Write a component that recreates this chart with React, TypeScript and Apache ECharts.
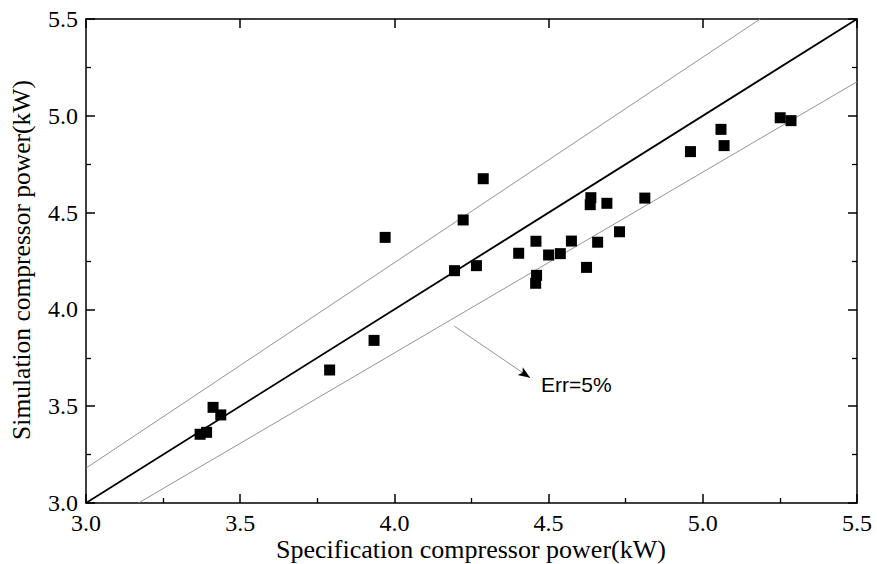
import React, { useEffect, useRef } from "react";
import * as echarts from "echarts";

// Specification compressor power (kW)
const specPower = [
  3.370, 3.391, 3.412, 3.437, 3.790, 3.934, 3.970, 4.195, 4.223, 4.266,
  4.288, 4.403, 4.458, 4.461, 4.459, 4.500, 4.538, 4.574, 4.623, 4.635,
  4.637, 4.659, 4.689, 4.730, 4.812, 4.960, 5.059, 5.069, 5.251, 5.286,
];
// Simulation compressor power (kW)
const simPower = [
  3.355, 3.365, 3.494, 3.455, 3.687, 3.840, 4.372, 4.200, 4.462, 4.226,
  4.675, 4.290, 4.135, 4.176, 4.352, 4.281, 4.288, 4.353, 4.217, 4.541,
  4.577, 4.347, 4.548, 4.401, 4.575, 4.815, 4.930, 4.846, 4.990, 4.975,
];
// Reference lines
const perfectLine = [[3.0, 3.0], [5.5, 5.5]];
const upperErrLine = [[3.0, 3.18], [5.186, 5.5]];
const lowerErrLine = [[3.17, 3.0], [5.5, 5.176]];
// Annotation arrow (data coords) and text
const arrowStart = [4.194, 3.914];
const arrowEnd = [4.44, 3.647];
const arrowHeadStart = [4.413, 3.676];
const annotationText = "Err=5%";
const xAxisName = "Specification compressor power(kW)";
const yAxisName = "Simulation compressor power(kW)";
const axisMin = 3.0;
const axisMax = 5.5;
const axisInterval = 0.5;

export default function App() {
  const ref = useRef<HTMLDivElement>(null);
  useEffect(() => {
    document.body.style.margin = "0";
    const chart = echarts.init(ref.current!, null, { renderer: "svg" });
    const serif = "Liberation Serif";
    const common = (showLabel: boolean, minor: boolean) => ({
      type: "value",
      min: axisMin,
      max: axisMax,
      interval: axisInterval,
      axisLine: { show: true, onZero: false, lineStyle: { color: "#000", width: 1.5 } },
      axisTick: { show: true, inside: true, length: 9, lineStyle: { color: "#000", width: 1.5 } },
      minorTick: { show: minor, splitNumber: 2, length: 5, lineStyle: { color: "#000", width: 1.3 } },
      splitLine: { show: false },
      minorSplitLine: { show: false },
      axisLabel: {
        show: showLabel,
        fontFamily: serif,
        fontSize: 24,
        color: "#000",
        margin: 8,
        formatter: (v: number) => v.toFixed(1),
      },
    });
    const scatterData = specPower.map((x, i) => [x, simPower[i]]);
    chart.setOption({
      animation: false,
      backgroundColor: "#fff",
      grid: { left: 86, top: 19, width: 771, height: 484 },
      xAxis: [
        { ...common(true, true), position: "bottom" },
        { ...common(false, false), position: "top" },
      ],
      yAxis: [
        { ...common(true, true), position: "left" },
        { ...common(false, true), position: "right" },
      ],
      series: [
        {
          type: "line",
          data: perfectLine,
          symbol: "none",
          lineStyle: { color: "#000", width: 1.8 },
          z: 2,
        },
        {
          type: "line",
          data: upperErrLine,
          symbol: "none",
          lineStyle: { color: "#888", width: 0.9 },
          z: 2,
        },
        {
          type: "line",
          data: lowerErrLine,
          symbol: "none",
          lineStyle: { color: "#888", width: 0.9 },
          z: 2,
          markLine: {
            silent: true,
            label: { show: false },
            data: [
              [
                { coord: arrowStart, symbol: "none", lineStyle: { color: "#888", width: 0.9, type: "solid" } },
                { coord: arrowEnd, symbol: "none" },
              ],
              [
                { coord: arrowHeadStart, symbol: "none", lineStyle: { color: "#000", width: 0.5, type: "solid" } },
                { coord: arrowEnd, symbol: "arrow", symbolSize: [7, 12] },
              ],
            ],
          },
        },
        {
          type: "scatter",
          data: scatterData,
          symbol: "rect",
          symbolSize: 11,
          itemStyle: { color: "#000", opacity: 1 },
          z: 3,
        },
      ],
      graphic: [
        {
          type: "text",
          x: 541,
          y: 384,
          style: {
            text: annotationText,
            font: "21px Liberation Sans",
            fill: "#000",
            textAlign: "left",
            textVerticalAlign: "middle",
          },
        },
        {
          type: "text",
          x: 471,
          y: 549,
          style: {
            text: xAxisName,
            font: `26px ${serif}`,
            fill: "#000",
            textAlign: "center",
            textVerticalAlign: "middle",
          },
        },
        {
          type: "text",
          x: 21,
          y: 260,
          rotation: Math.PI / 2,
          style: {
            text: yAxisName,
            font: `25.5px ${serif}`,
            fill: "#000",
            textAlign: "center",
            textVerticalAlign: "middle",
          },
        },
      ],
    });
    return () => chart.dispose();
  }, []);
  return <div ref={ref} style={{ width: 877, height: 564 }} />;
}
